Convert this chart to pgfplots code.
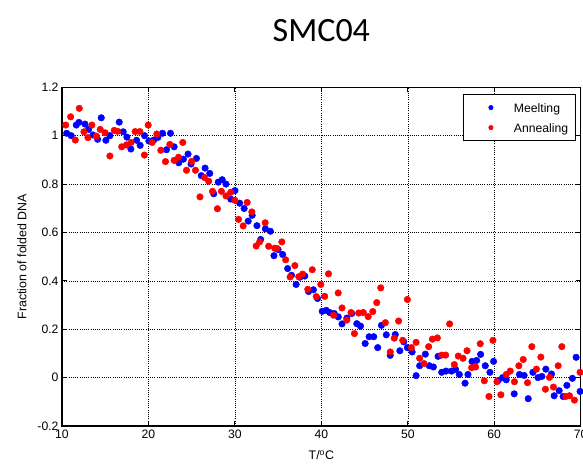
\documentclass[border=0pt]{standalone}
\usepackage{fontspec}
\setmainfont{Liberation Sans}
\newfontfamily\calibri{Carlito}
\usepackage{pgfplots}
\usepackage{pgfplotstable}
\pgfplotsset{compat=1.18}

\pgfplotstableread{
x y
10.54 1.010
11.07 1.000
11.65 1.044
11.96 1.055
12.66 1.048
13.08 1.026
13.58 1.003
14.12 0.985
14.54 1.074
15.08 0.981
15.54 1.000
16.62 1.056
17.08 1.016
17.51 0.994
17.97 0.945
18.63 0.981
19.04 0.960
19.55 1.000
20.05 0.978
20.62 0.982
21.09 0.993
21.63 1.010
22.09 0.942
22.55 1.010
22.97 0.954
23.51 0.888
24.05 0.903
24.58 0.924
24.93 0.883
25.55 0.906
26.11 0.835
26.55 0.866
27.09 0.844
27.55 0.760
28.07 0.808
28.53 0.818
28.97 0.800
29.52 0.738
30.01 0.773
30.55 0.721
31.07 0.699
31.54 0.647
32.00 0.671
32.55 0.628
32.98 0.571
33.53 0.615
34.10 0.605
34.52 0.504
35.00 0.529
35.52 0.509
36.10 0.451
36.54 0.423
37.08 0.385
37.52 0.415
38.08 0.420
38.52 0.356
39.08 0.363
39.56 0.327
40.10 0.274
40.57 0.278
40.97 0.269
41.49 0.265
41.96 0.251
42.39 0.222
42.95 0.246
43.52 0.265
44.10 0.223
44.53 0.213
45.07 0.141
45.53 0.169
46.06 0.169
46.52 0.124
46.95 0.216
47.51 0.177
47.97 0.092
48.55 0.178
49.08 0.111
49.53 0.148
49.95 0.124
50.50 0.106
50.96 0.008
51.37 0.049
52.03 0.097
52.49 0.049
52.96 0.044
53.50 0.088
53.92 0.022
54.42 0.027
55.07 0.027
55.53 0.034
55.96 0.013
56.62 -0.023
56.96 0.013
57.43 0.067
57.96 0.071
58.42 0.096
58.96 0.049
59.50 0.022
59.92 0.067
60.46 -0.012
60.96 0.000
61.39 -0.009
62.31 -0.067
62.92 0.013
63.46 0.009
63.93 -0.087
64.47 0.022
65.05 0.000
65.51 0.005
65.97 0.035
66.62 0.015
66.93 -0.075
67.51 -0.054
67.97 -0.078
68.40 -0.032
69.04 -0.003
69.47 0.084
69.93 -0.057
}\melting

\pgfplotstableread{
x y
10.43 1.044
11.00 1.078
11.54 0.982
12.00 1.113
12.54 1.016
13.00 0.992
13.46 1.044
13.98 0.998
14.42 1.026
14.99 1.012
15.54 0.916
16.04 1.022
16.44 1.018
16.91 0.954
17.45 0.962
17.99 0.972
18.46 1.017
19.01 1.017
19.53 0.920
19.97 1.044
20.43 0.972
20.97 1.007
21.43 0.940
21.97 0.893
22.47 0.964
22.97 0.898
23.48 0.911
23.97 0.972
24.40 0.857
24.99 0.894
25.44 0.857
25.96 0.747
26.49 0.827
26.97 0.812
27.41 0.770
27.98 0.698
28.44 0.770
28.97 0.751
29.52 0.766
30.00 0.733
30.42 0.654
30.96 0.627
31.42 0.724
31.96 0.685
32.46 0.544
32.86 0.561
33.50 0.640
33.90 0.543
34.60 0.535
34.86 0.534
35.43 0.561
35.87 0.487
36.39 0.416
36.94 0.463
37.39 0.417
37.83 0.428
38.43 0.365
38.95 0.446
39.41 0.335
39.94 0.385
40.39 0.336
40.83 0.429
41.41 0.258
41.95 0.350
42.39 0.288
42.95 0.238
43.43 0.269
43.83 0.182
44.32 0.267
44.85 0.269
45.42 0.252
45.95 0.273
46.41 0.310
46.87 0.371
47.41 0.227
47.97 0.106
48.43 0.163
48.94 0.234
49.41 0.154
49.95 0.323
50.42 0.124
50.96 0.146
51.37 0.080
51.88 0.058
52.41 0.128
52.84 0.159
53.42 0.164
53.92 0.093
54.38 0.093
54.84 0.222
55.38 0.054
55.84 0.089
56.39 0.080
56.85 0.111
57.38 0.041
57.84 0.044
58.38 0.140
58.85 -0.013
59.39 -0.078
59.85 0.154
60.31 -0.017
60.77 -0.071
61.39 0.013
61.85 0.027
62.34 -0.017
62.85 0.049
63.35 0.075
63.85 -0.021
64.35 0.128
64.88 0.035
65.39 0.085
65.92 -0.048
66.39 0.001
66.85 -0.039
67.39 0.049
67.82 0.128
68.28 -0.078
68.70 -0.075
69.27 -0.093
69.93 0.022
}\annealing

\begin{document}
\begin{tikzpicture}
\begin{axis}[
  scale only axis,
  width=518.7pt, height=338.7pt,
  xmin=10, xmax=70, ymin=-0.2, ymax=1.2,
  xtick={10,20,30,40,50,60,70},
  ytick={-0.2,0,0.2,0.4,0.6,0.8,1,1.2},
  yticklabels={-0.2,0,0.2,0.4,0.6,0.8,1,1.2},
  /pgf/number format/assume math mode=true,
  tick label style={font=\fontsize{12.2}{14}\selectfont},
  tick align=inside,
  major tick length=5pt,
  tick style={black, line width=0.8pt},
  axis line style={black, line width=1.3pt},
  grid=major,
  major grid style={black, line width=0.55pt, dash pattern=on 1pt off 1.2pt},
  clip=false,
  xlabel={T/\textsuperscript{o}C},
  ylabel={Fraction of folded DNA},
  label style={font=\fontsize{12.4}{14}\selectfont},
  xlabel style={at={(axis description cs:0.5,0)}, anchor=center, yshift=-29.5pt},
  ylabel style={at={(axis description cs:-0.0771,0.5)}, anchor=center},
  title={SMC04},
  title style={font=\calibri\fontsize{34}{40}\selectfont, at={(axis description cs:0.5,1)}, anchor=center, yshift=51pt},
  legend style={at={(axis description cs:1,1)}, anchor=north east, xshift=-5pt, yshift=-7pt,
    draw=black, line width=1pt, fill=white,
    inner xsep=0pt, inner ysep=8.3pt,
    font=\fontsize{12.2}{14}\selectfont,
    nodes={inner sep=0pt, text height=9pt, text depth=0pt},
    row sep=11pt},
  legend cell align=left,
  legend image code/.code={\path[draw=none, fill=none] (0pt,0pt) -- (50pt,0pt);
    \fill (27pt,0pt) circle (2pt);},
]
\addplot[only marks, mark=*, mark size=3.3pt, color=blue] table {\melting};
\addlegendentry{Meelting}
\addplot[only marks, mark=*, mark size=3.3pt, color=red] table {\annealing};
\addlegendentry{Annealing\hspace*{7pt}}
\draw[black, line width=2.2pt] (rel axis cs:0,0) -- (rel axis cs:1,0);
\end{axis}
\pgfresetboundingbox
\useasboundingbox (-62pt,-38pt) rectangle (521pt,426pt);
\end{tikzpicture}
\end{document}
